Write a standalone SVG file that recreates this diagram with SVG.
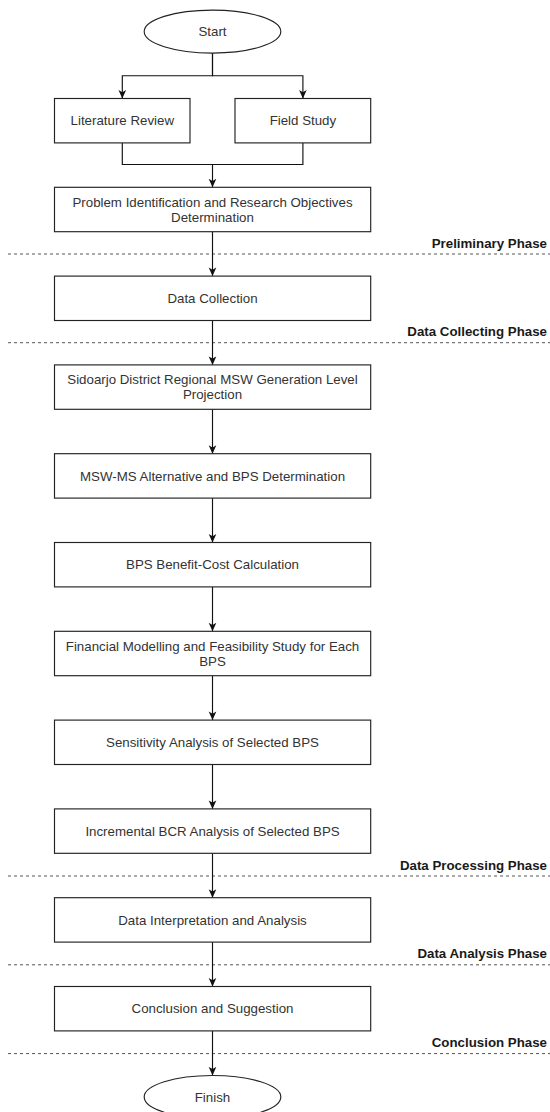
<svg xmlns="http://www.w3.org/2000/svg" width="550" height="1112" viewBox="0 0 550 1112">
  <defs>
    <marker id="arrow" viewBox="0 0 10 10" refX="10" refY="5" markerUnits="userSpaceOnUse" markerWidth="9" markerHeight="8.5" orient="auto">
      <path d="M0,0.5 L10,5 L0,9.5 L2.6,5 Z" fill="#111"/>
    </marker>
    <style>
      .box { fill: #ffffff; stroke: #222; stroke-width: 1.15; }
      .term { fill: #ffffff; stroke: #222; stroke-width: 1.15; }
      .lbl { font-family: "Liberation Sans", Arial, Helvetica, sans-serif; font-size: 13.3px; fill: #333; text-anchor: middle; }
      .phase { font-family: "Liberation Sans", Arial, Helvetica, sans-serif; font-size: 13.3px; font-weight: bold; fill: #1a1a1a; text-anchor: end; }
      .edge { fill: none; stroke: #111; stroke-width: 1.15; }
      .arrow { marker-end: url(#arrow); }
      .divider { stroke: #555; stroke-width: 1; stroke-dasharray: 3 3; }
    </style>
  </defs>

  <rect width="550" height="1112" fill="#ffffff"/>

  <!-- phase dividers -->
  <g id="phases">
    <line class="divider" x1="8" y1="254" x2="550" y2="254"/>
    <text class="phase" x="547" y="247.5">Preliminary Phase</text>
    <line class="divider" x1="8" y1="342.7" x2="550" y2="342.7"/>
    <text class="phase" x="547" y="336">Data Collecting Phase</text>
    <line class="divider" x1="8" y1="876" x2="550" y2="876"/>
    <text class="phase" x="547" y="869.5">Data Processing Phase</text>
    <line class="divider" x1="8" y1="964.8" x2="550" y2="964.8"/>
    <text class="phase" x="547" y="958.3">Data Analysis Phase</text>
    <line class="divider" x1="8" y1="1053.6" x2="550" y2="1053.6"/>
    <text class="phase" x="547" y="1047.1">Conclusion Phase</text>
  </g>

  <!-- connectors -->
  <g id="connectors">
    <polyline class="edge arrow" points="212.5,53.1 212.5,75.7 122.3,75.7 122.3,98.5"/>
    <polyline class="edge arrow" points="212.5,53.1 212.5,75.7 302.9,75.7 302.9,98.5"/>
    <polyline class="edge" points="122.3,142.9 122.3,164.5 302.9,164.5 302.9,142.9"/>
    <line class="edge arrow" x1="212.5" y1="164.5" x2="212.5" y2="187.3"/>
    <line class="edge arrow" x1="212.5" y1="231.7" x2="212.5" y2="276.1"/>
    <line class="edge arrow" x1="212.5" y1="320.5" x2="212.5" y2="364.9"/>
    <line class="edge arrow" x1="212.5" y1="409.3" x2="212.5" y2="453.7"/>
    <line class="edge arrow" x1="212.5" y1="498.1" x2="212.5" y2="542.5"/>
    <line class="edge arrow" x1="212.5" y1="586.9" x2="212.5" y2="631.3"/>
    <line class="edge arrow" x1="212.5" y1="675.7" x2="212.5" y2="720.1"/>
    <line class="edge arrow" x1="212.5" y1="764.5" x2="212.5" y2="808.9"/>
    <line class="edge arrow" x1="212.5" y1="853.3" x2="212.5" y2="897.7"/>
    <line class="edge arrow" x1="212.5" y1="942.1" x2="212.5" y2="986.5"/>
    <line class="edge arrow" x1="212.5" y1="1030.9" x2="212.5" y2="1075.4"/>
  </g>

  <!-- nodes -->
  <g id="start">
    <ellipse class="term" cx="212.5" cy="31.6" rx="68.3" ry="21.5"/>
    <text class="lbl" x="212.5" y="36.3">Start</text>
  </g>
  <g id="literature-review">
    <rect class="box" x="54.5" y="98.5" width="135.5" height="44.4"/>
    <text class="lbl" x="122.3" y="125.4">Literature Review</text>
  </g>
  <g id="field-study">
    <rect class="box" x="235" y="98.5" width="135.7" height="44.4"/>
    <text class="lbl" x="302.9" y="125.4">Field Study</text>
  </g>
  <g id="problem-identification">
    <rect class="box" x="54.5" y="187.3" width="316.2" height="44.4"/>
    <text class="lbl" x="212.5" y="206.6">Problem Identification and Research Objectives</text>
    <text class="lbl" x="212.5" y="221.8">Determination</text>
  </g>
  <g id="data-collection">
    <rect class="box" x="54.5" y="276.1" width="316.2" height="44.4"/>
    <text class="lbl" x="212.5" y="303">Data Collection</text>
  </g>
  <g id="msw-projection">
    <rect class="box" x="54.5" y="364.9" width="316.2" height="44.4"/>
    <text class="lbl" x="212.5" y="384.2">Sidoarjo District Regional MSW Generation Level</text>
    <text class="lbl" x="212.5" y="399.4">Projection</text>
  </g>
  <g id="bps-determination">
    <rect class="box" x="54.5" y="453.7" width="316.2" height="44.4"/>
    <text class="lbl" x="212.5" y="480.6">MSW-MS Alternative and BPS Determination</text>
  </g>
  <g id="benefit-cost">
    <rect class="box" x="54.5" y="542.5" width="316.2" height="44.4"/>
    <text class="lbl" x="212.5" y="569.4">BPS Benefit-Cost Calculation</text>
  </g>
  <g id="financial-modelling">
    <rect class="box" x="54.5" y="631.3" width="316.2" height="44.4"/>
    <text class="lbl" x="212.5" y="650.6">Financial Modelling and Feasibility Study for Each</text>
    <text class="lbl" x="212.5" y="665.8">BPS</text>
  </g>
  <g id="sensitivity-analysis">
    <rect class="box" x="54.5" y="720.1" width="316.2" height="44.4"/>
    <text class="lbl" x="212.5" y="747">Sensitivity Analysis of Selected BPS</text>
  </g>
  <g id="incremental-bcr">
    <rect class="box" x="54.5" y="808.9" width="316.2" height="44.4"/>
    <text class="lbl" x="212.5" y="835.8">Incremental BCR Analysis of Selected BPS</text>
  </g>
  <g id="data-interpretation">
    <rect class="box" x="54.5" y="897.7" width="316.2" height="44.4"/>
    <text class="lbl" x="212.5" y="924.6">Data Interpretation and Analysis</text>
  </g>
  <g id="conclusion">
    <rect class="box" x="54.5" y="986.5" width="316.2" height="44.4"/>
    <text class="lbl" x="212.5" y="1013.4">Conclusion and Suggestion</text>
  </g>
  <g id="finish">
    <ellipse class="term" cx="212.5" cy="1097" rx="68.3" ry="21.5"/>
    <text class="lbl" x="212.5" y="1101.7">Finish</text>
  </g>
</svg>
